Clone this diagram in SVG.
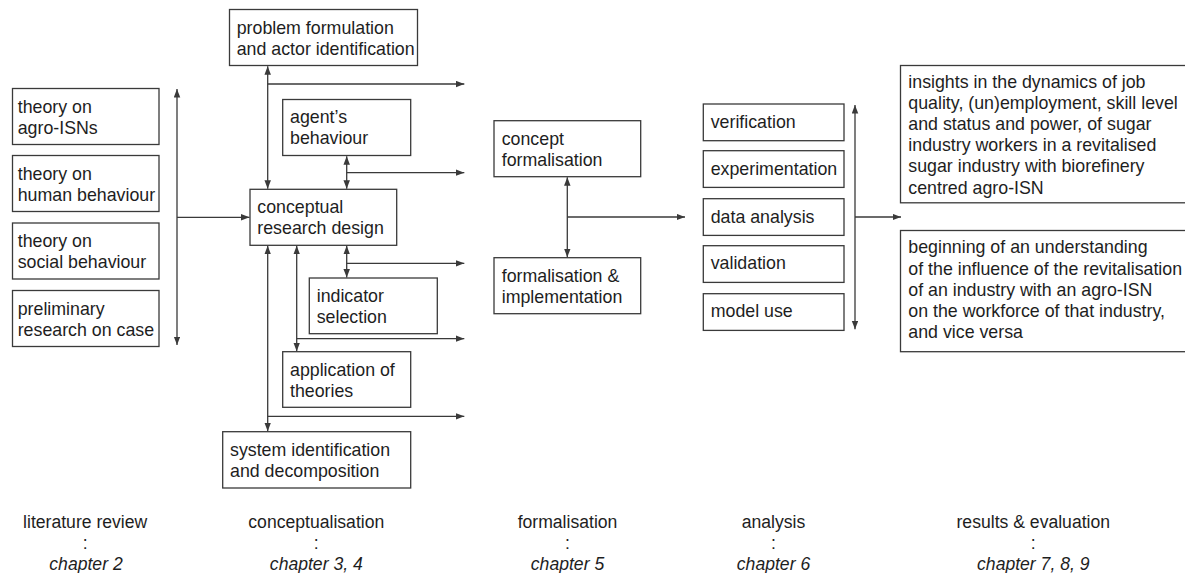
<svg xmlns="http://www.w3.org/2000/svg" width="1185" height="573" viewBox="0 0 1185 573">
  <style>
    .box { fill: #ffffff; stroke: #3a3a3a; stroke-width: 1.3; }
    .lbl { font-family: "Liberation Sans", Arial, sans-serif; font-size: 17.8px; fill: #1e1e1e; }
    .phase { font-family: "Liberation Sans", Arial, sans-serif; font-size: 17.6px; fill: #1e1e1e; text-anchor: middle; }
    .chap { font-style: italic; }
    .conn { fill: none; stroke: #3a3a3a; stroke-width: 1.3; }
    .two { marker-start: url(#arrow); marker-end: url(#arrow); }
    .one { marker-end: url(#arrow); }
  </style>
  <defs>
    <marker id="arrow" markerUnits="userSpaceOnUse" markerWidth="9" markerHeight="7" refX="8.5" refY="3.25" orient="auto-start-reverse">
      <path d="M0,0 L8.5,3.25 L0,6.5 z" fill="#3a3a3a"/>
    </marker>
  </defs>
  <rect width="1185" height="573" fill="#ffffff"/>

  <!-- literature review -->
  <g id="theory-agro-isns">
    <rect class="box" x="12.5" y="88.5" width="146.5" height="56"/>
    <text class="lbl" x="17.7" y="112.7">theory on</text>
    <text class="lbl" x="17.7" y="133.5">agro-ISNs</text>
  </g>
  <g id="theory-human-behaviour">
    <rect class="box" x="12.5" y="155.5" width="146.5" height="56"/>
    <text class="lbl" x="17.7" y="179.7">theory on</text>
    <text class="lbl" x="17.7" y="200.5">human behaviour</text>
  </g>
  <g id="theory-social-behaviour">
    <rect class="box" x="12.5" y="223" width="146.5" height="56"/>
    <text class="lbl" x="17.7" y="247.2">theory on</text>
    <text class="lbl" x="17.7" y="268">social behaviour</text>
  </g>
  <g id="preliminary-research">
    <rect class="box" x="12.5" y="290.5" width="146.5" height="56"/>
    <text class="lbl" x="17.7" y="314.7">preliminary</text>
    <text class="lbl" x="17.7" y="335.5">research on case</text>
  </g>

  <!-- conceptualisation -->
  <g id="problem-formulation">
    <rect class="box" x="229.5" y="9.5" width="188" height="56"/>
    <text class="lbl" x="236.7" y="33.5">problem formulation</text>
    <text class="lbl" x="236.7" y="54.5">and actor identification</text>
  </g>
  <g id="agents-behaviour">
    <rect class="box" x="282.7" y="99.5" width="128" height="56"/>
    <text class="lbl" x="290" y="123.3">agent’s</text>
    <text class="lbl" x="290" y="144">behaviour</text>
  </g>
  <g id="conceptual-research-design">
    <rect class="box" x="250" y="189.3" width="146.7" height="56"/>
    <text class="lbl" x="257.3" y="213.3">conceptual</text>
    <text class="lbl" x="257.3" y="234.3">research design</text>
  </g>
  <g id="indicator-selection">
    <rect class="box" x="309.3" y="278" width="128" height="55.7"/>
    <text class="lbl" x="316.7" y="301.7">indicator</text>
    <text class="lbl" x="316.7" y="322.7">selection</text>
  </g>
  <g id="application-of-theories">
    <rect class="box" x="282.7" y="351.7" width="128" height="55.6"/>
    <text class="lbl" x="290" y="375.7">application of</text>
    <text class="lbl" x="290" y="396.7">theories</text>
  </g>
  <g id="system-identification">
    <rect class="box" x="222.7" y="431.7" width="188" height="56.3"/>
    <text class="lbl" x="230" y="455.7">system identification</text>
    <text class="lbl" x="230" y="476.7">and decomposition</text>
  </g>

  <!-- formalisation -->
  <g id="concept-formalisation">
    <rect class="box" x="494" y="120.7" width="146.7" height="56"/>
    <text class="lbl" x="501.7" y="145">concept</text>
    <text class="lbl" x="501.7" y="166">formalisation</text>
  </g>
  <g id="formalisation-implementation">
    <rect class="box" x="494" y="257.7" width="146.7" height="56"/>
    <text class="lbl" x="501.7" y="281.7">formalisation &amp;</text>
    <text class="lbl" x="501.7" y="303">implementation</text>
  </g>

  <!-- analysis -->
  <g id="verification">
    <rect class="box" x="703.3" y="104" width="140.7" height="36.7"/>
    <text class="lbl" x="710.7" y="127.7">verification</text>
  </g>
  <g id="experimentation">
    <rect class="box" x="703.3" y="150.7" width="140.7" height="36.7"/>
    <text class="lbl" x="710.7" y="175">experimentation</text>
  </g>
  <g id="data-analysis">
    <rect class="box" x="703.3" y="198.7" width="140.7" height="36.7"/>
    <text class="lbl" x="710.7" y="222.7">data analysis</text>
  </g>
  <g id="validation">
    <rect class="box" x="703.3" y="245.7" width="140.7" height="36.7"/>
    <text class="lbl" x="710.7" y="269.3">validation</text>
  </g>
  <g id="model-use">
    <rect class="box" x="703.3" y="293.7" width="140.7" height="36.7"/>
    <text class="lbl" x="710.7" y="317.3">model use</text>
  </g>

  <!-- results -->
  <g id="insights">
    <rect class="box" x="900.5" y="65.5" width="300" height="137.3"/>
    <text class="lbl" x="908.3" y="87.5">insights in the dynamics of job</text>
    <text class="lbl" x="908.3" y="108.7">quality, (un)employment, skill level</text>
    <text class="lbl" x="908.3" y="129.9">and status and power, of sugar</text>
    <text class="lbl" x="908.3" y="151.1">industry workers in a revitalised</text>
    <text class="lbl" x="908.3" y="172.3">sugar industry with biorefinery</text>
    <text class="lbl" x="908.3" y="193.5">centred agro-ISN</text>
  </g>
  <g id="understanding">
    <rect class="box" x="900.5" y="230.5" width="300" height="121.2"/>
    <text class="lbl" x="908.3" y="253.3">beginning of an understanding</text>
    <text class="lbl" x="908.3" y="274.5">of the influence of the revitalisation</text>
    <text class="lbl" x="908.3" y="295.8">of an industry with an agro-ISN</text>
    <text class="lbl" x="908.3" y="317">on the workforce of that industry,</text>
    <text class="lbl" x="908.3" y="338.3">and vice versa</text>
  </g>

  <!-- connectors -->
  <g id="connectors">
    <line class="conn two" x1="177" y1="89" x2="177" y2="345"/>
    <line class="conn one" x1="177" y1="217.3" x2="249.5" y2="217.3"/>

    <line class="conn two" x1="267.7" y1="66.2" x2="267.7" y2="188.8"/>
    <line class="conn one" x1="267.7" y1="84" x2="464.3" y2="84"/>
    <line class="conn two" x1="346.7" y1="156.2" x2="346.7" y2="188.8"/>
    <line class="conn one" x1="346.7" y1="172.7" x2="464.3" y2="172.7"/>

    <line class="conn two" x1="346.7" y1="245.8" x2="346.7" y2="277.5"/>
    <line class="conn one" x1="346.7" y1="263.3" x2="464.3" y2="263.3"/>
    <line class="conn two" x1="296.7" y1="245.8" x2="296.7" y2="351.2"/>
    <line class="conn one" x1="296.7" y1="338.7" x2="464.3" y2="338.7"/>
    <line class="conn two" x1="267.7" y1="245.8" x2="267.7" y2="431.2"/>
    <line class="conn one" x1="267.7" y1="416.3" x2="464.3" y2="416.3"/>

    <line class="conn two" x1="567.3" y1="177.2" x2="567.3" y2="257.2"/>
    <line class="conn one" x1="567.3" y1="217" x2="685" y2="217"/>

    <line class="conn two" x1="855" y1="105" x2="855" y2="329.3"/>
    <line class="conn one" x1="855" y1="217" x2="901" y2="217"/>
  </g>

  <!-- phases and chapters -->
  <g id="phase-literature-review">
    <text class="phase" x="85.2" y="528">literature review</text>
    <text class="phase" x="85.2" y="549">:</text>
    <text class="phase chap" x="86" y="570">chapter 2</text>
  </g>
  <g id="phase-conceptualisation">
    <text class="phase" x="316.3" y="528">conceptualisation</text>
    <text class="phase" x="316.3" y="549">:</text>
    <text class="phase chap" x="316.3" y="570">chapter 3, 4</text>
  </g>
  <g id="phase-formalisation">
    <text class="phase" x="567.5" y="528">formalisation</text>
    <text class="phase" x="567.5" y="549">:</text>
    <text class="phase chap" x="567.5" y="570">chapter 5</text>
  </g>
  <g id="phase-analysis">
    <text class="phase" x="773.5" y="528">analysis</text>
    <text class="phase" x="773.5" y="549">:</text>
    <text class="phase chap" x="773.5" y="570">chapter 6</text>
  </g>
  <g id="phase-results">
    <text class="phase" x="1033.3" y="528">results &amp; evaluation</text>
    <text class="phase" x="1033.3" y="549">:</text>
    <text class="phase chap" x="1033.3" y="570">chapter 7, 8, 9</text>
  </g>
</svg>
